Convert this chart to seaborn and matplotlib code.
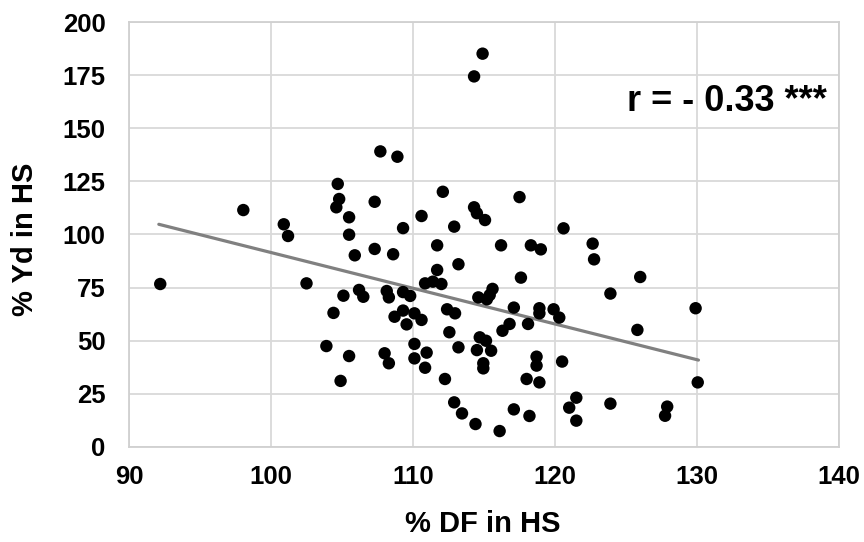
import matplotlib
matplotlib.use("Agg")
import matplotlib.pyplot as plt
import seaborn as sns
import pandas as pd

# % DF in HS (x) and % Yd in HS (y)
df_pct = [92.2, 98.05, 100.9, 101.2, 102.5, 103.9, 104.4, 104.7, 104.8, 104.6,
          104.9, 105.1, 105.5, 105.5, 105.5, 105.9, 106.2, 106.5, 107.3, 107.3,
          107.7, 108.0, 108.15, 108.3, 108.3, 108.6, 108.7, 108.9, 109.3, 109.3,
          109.3, 109.55, 109.8, 110.1, 110.1, 110.1, 110.6, 110.6, 110.85, 110.96,
          110.85, 111.4, 111.7, 111.7, 112.0, 112.1, 112.25, 112.4, 112.56, 112.9,
          112.96, 112.9, 113.2, 113.2, 113.45, 114.3, 114.3, 114.5, 114.4, 114.5,
          114.6, 114.7, 114.9, 114.95, 114.95, 115.07, 115.14, 115.2, 115.4, 115.5,
          115.6, 116.1, 116.2, 116.3, 116.8, 117.1, 117.1, 117.5, 117.6, 118.0,
          118.1, 118.2, 118.3, 118.7, 118.7, 118.9, 118.9, 118.9, 119.0, 119.9,
          120.3, 120.5, 120.6, 121.0, 121.5, 121.5, 122.65, 122.75, 123.9, 123.9,
          125.8, 126.0, 127.9, 127.75, 129.9, 130.05]
yd_pct = [76.7, 111.5, 104.8, 99.3, 77.0, 47.5, 63.1, 123.8, 116.7, 112.8,
          31.1, 71.2, 108.1, 99.9, 42.8, 90.2, 73.9, 70.7, 115.4, 93.2,
          139.1, 44.1, 73.4, 70.4, 39.4, 90.7, 61.3, 136.6, 103.0, 72.9,
          64.2, 57.7, 71.1, 62.9, 48.5, 41.7, 108.7, 59.8, 77.0, 44.4,
          37.3, 77.8, 94.9, 83.3, 76.7, 120.1, 32.0, 64.8, 54.0, 103.7,
          62.9, 21.0, 86.0, 46.9, 15.8, 174.4, 112.8, 110.0, 10.8, 45.6,
          70.4, 51.6, 185.1, 39.4, 37.0, 106.8, 50.0, 69.5, 71.5, 45.3,
          74.4, 7.5, 94.9, 54.7, 57.9, 65.6, 17.7, 117.6, 79.7, 32.0,
          57.9, 14.6, 94.9, 42.5, 38.3, 65.3, 62.9, 30.4, 93.0, 64.8,
          60.9, 40.2, 102.9, 18.5, 23.2, 12.4, 95.7, 88.3, 72.2, 20.4,
          55.1, 80.0, 19.0, 14.7, 65.3, 30.4]

# linear trend line endpoints as drawn in the reference
trend_x = [92.1, 130.1]
trend_y = [104.8, 40.9]

x_ticks = [90, 100, 110, 120, 130, 140]
y_ticks = [0, 25, 50, 75, 100, 125, 150, 175, 200]
annotation = "r = - 0.33 ***"

data = pd.DataFrame({"DF": df_pct, "Yd": yd_pct})
trend = pd.DataFrame({"x": trend_x, "y": trend_y})

sns.set_theme(style="white")
plt.rcParams["font.family"] = ["Liberation Sans", "DejaVu Sans"]
plt.rcParams["text.color"] = "black"
plt.rcParams["axes.labelcolor"] = "black"

fig = plt.figure(figsize=(8.64, 5.42), dpi=100)
ax = fig.add_axes([0.1493, 0.1753, 0.8218, 0.7841])

sns.lineplot(data=trend, x="x", y="y", ax=ax, color="#808080", linewidth=2.3, zorder=2)
sns.scatterplot(data=data, x="DF", y="Yd", ax=ax, color="black", s=80,
                edgecolor="none", zorder=3)

ax.set_xlim(90, 140)
ax.set_ylim(0, 200)
ax.set_xticks(x_ticks)
ax.set_yticks(y_ticks)
ax.set_xticklabels([str(t) for t in x_ticks], fontsize=18.5, fontweight="bold")
ax.set_yticklabels([str(t) for t in y_ticks], fontsize=18.5, fontweight="bold")
ax.tick_params(axis="x", length=0, pad=13, colors="black")
ax.tick_params(axis="y", length=0, pad=17, colors="black")
ax.grid(True, color="#d9d9d9", linewidth=1.3, zorder=0)
ax.set_axisbelow(True)
for side in ["left", "bottom", "top", "right"]:
    ax.spines[side].set_visible(True)
    ax.spines[side].set_color("#d0d0d0")
    ax.spines[side].set_linewidth(1.3)

ax.set_xlabel("% DF in HS", fontsize=21, fontweight="bold", va="top", color="black")
ax.xaxis.set_label_coords(0.498, -0.148)
ax.set_ylabel("% Yd in HS", fontsize=21, fontweight="bold", va="center", color="black")
ax.yaxis.set_label_coords(-0.146, 0.489)

ax.text(0.983, 0.812, annotation, transform=ax.transAxes, ha="right", va="center",
        fontsize=26, fontweight="bold", color="black")

fig.savefig("out.png", dpi=100)
